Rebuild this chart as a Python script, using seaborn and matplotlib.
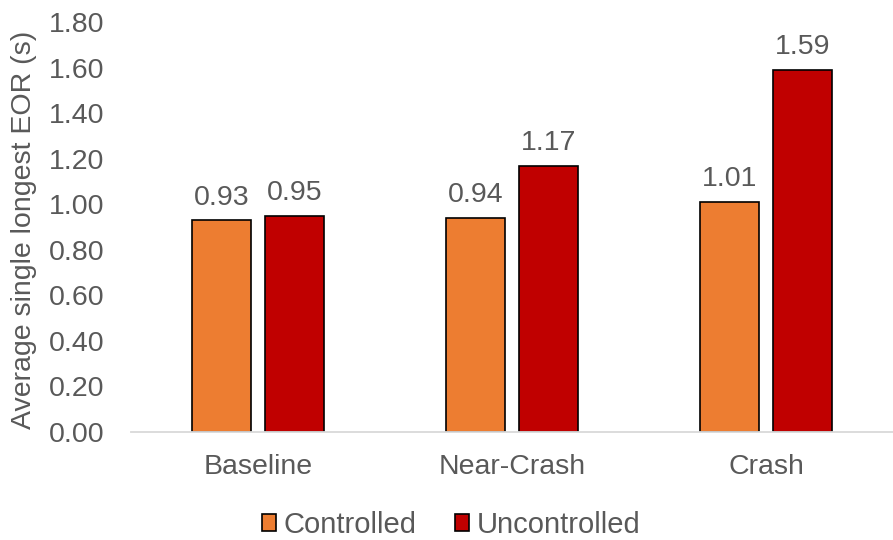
import matplotlib
matplotlib.use("Agg")
import matplotlib.pyplot as plt
import seaborn as sns
import pandas as pd

categories = ["Baseline", "Near-Crash", "Crash"]
controlled = [0.93, 0.94, 1.01]
uncontrolled = [0.95, 1.17, 1.59]
series_names = ["Controlled", "Uncontrolled"]
y_ticks = [0.0, 0.2, 0.4, 0.6, 0.8, 1.0, 1.2, 1.4, 1.6, 1.8]

df = pd.DataFrame({
    "Event": categories * 2,
    "Group": [series_names[0]] * 3 + [series_names[1]] * 3,
    "EOR": controlled + uncontrolled,
})

sns.set_theme(style="white")
plt.rcParams["font.family"] = ["Liberation Sans", "DejaVu Sans"]
text_color = "#595959"
fs = 20.5

fig = plt.figure(figsize=(8.93, 5.40), dpi=100)
ax = fig.add_axes([0.1467, 0.2, 0.8533, 0.759])

sns.barplot(
    data=df, x="Event", y="EOR", hue="Group",
    order=categories, hue_order=series_names,
    palette=["#ED7D31", "#C00000"], saturation=1,
    width=0.57, gap=0.19,
    edgecolor="black", linewidth=1.2,
    errorbar=None, ax=ax,
)

for container in ax.containers:
    ax.bar_label(container, fmt="%.2f", padding=7, fontsize=fs, color=text_color)

ax.set_ylim(0, 1.8)
ax.set_xlim(-0.5, 2.5)
ax.set_yticks(y_ticks)
ax.set_yticklabels([f"{v:.2f}" for v in y_ticks])
ax.tick_params(axis="both", length=0, labelsize=fs, colors=text_color)
ax.tick_params(axis="x", pad=16)
ax.tick_params(axis="y", pad=19)
ax.set_xlabel("")
ax.set_ylabel("Average single longest EOR (s)", fontsize=fs, color=text_color)
ax.yaxis.set_label_coords(-0.123, 0.492)

for side in ["top", "right", "left"]:
    ax.spines[side].set_visible(False)
ax.spines["bottom"].set_color("#D9D9D9")
ax.spines["bottom"].set_linewidth(1.3)

ax.legend_.remove()
handles, labels = ax.get_legend_handles_labels()
fig.legend(
    handles, labels, loc="center", bbox_to_anchor=(0.505, 0.028),
    ncol=2, frameon=False, fontsize=fs + 0.5, labelcolor=text_color,
    handlelength=0.5, handleheight=0.5, handletextpad=0.25, columnspacing=1.3,
)

fig.savefig("out.png", dpi=100)
